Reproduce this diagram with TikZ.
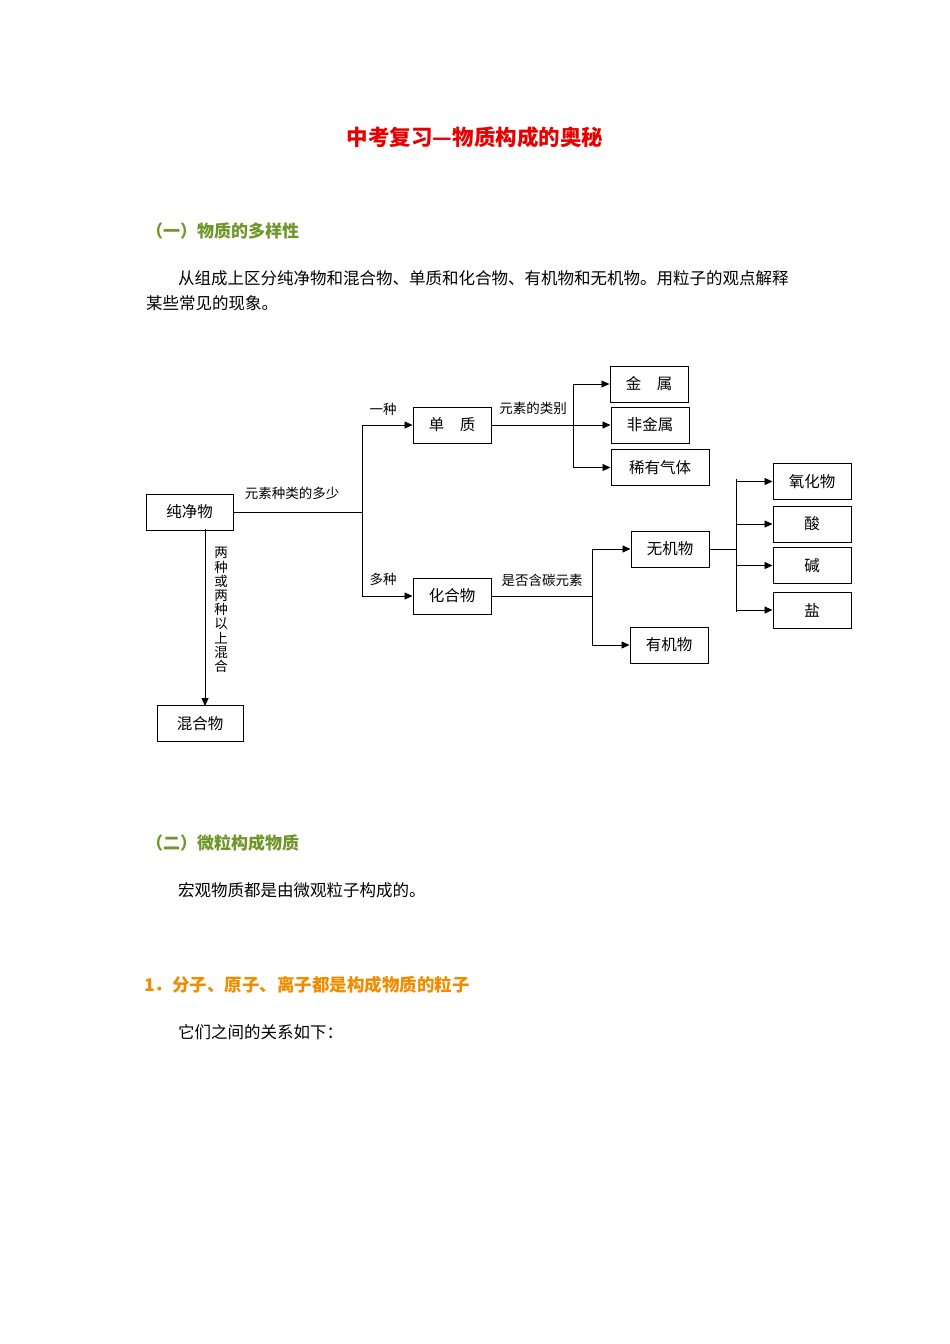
\documentclass[tikz,border=0pt]{standalone}
\usepackage{fontspec}
\setmainfont{Noto Sans CJK SC}
\usetikzlibrary{arrows.meta}
\definecolor{titlered}{RGB}{230,0,0}
\definecolor{headgreen}{RGB}{110,150,40}
\definecolor{headorange}{RGB}{240,140,0}
\begin{document}
\begin{tikzpicture}[x=1pt,y=-1pt,
 box/.style={draw,line width=1pt,minimum height=36pt,font=\fontsize{15.5}{15.5}\selectfont,inner sep=0pt},
 lab/.style={font=\fontsize{13.5}{13.5}\selectfont,inner sep=0pt},
 body/.style={font=\fontsize{16.5}{17}\selectfont,inner sep=0pt,anchor=west},
 arr/.style={-{Triangle[length=8pt,width=7pt]},line width=0.8pt},
 ln/.style={line width=0.8pt}]
\useasboundingbox (0,0) rectangle (950,1344);
\node[font=\bfseries\fontsize{21.5}{21.5}\selectfont,text=titlered] (title) at (475,137) {中考复习—物质构成的奥秘};
\node[body,font=\bfseries\fontsize{17}{17}\selectfont,text=headgreen] (h1) at (146,231) {（一）物质的多样性};
\node[body] (p1) at (178,278) {从组成上区分纯净物和混合物、单质和化合物、有机物和无机物。用粒子的观点解释};
\node[body] (p2) at (146,303) {某些常见的现象。};
\node[body,font=\bfseries\fontsize{17}{17}\selectfont,text=headgreen] (h2) at (146,843) {（二）微粒构成物质};
\node[body] (p3) at (178,890) {宏观物质都是由微观粒子构成的。};
\node[body,font=\bfseries\fontsize{17.5}{17.5}\selectfont,text=headorange] (h3) at (144,985) {1．分子、原子、离子都是构成物质的粒子};
\node[body] (p4) at (178,1032) {它们之间的关系如下：};

\node[box,minimum width=87pt] (chun) at (189.5,512) {纯净物};
\node[box,minimum width=86pt] (hun) at (200,723.5) {混合物};
\node[box,minimum width=78pt] (dan) at (452,425) {单\hspace{1em}质};
\node[box,minimum width=78pt] (hua) at (452,596) {化合物};
\node[box,minimum width=78pt] (jin) at (649,384) {金\hspace{1em}属};
\node[box,minimum width=78pt] (fei) at (650,425) {非金属};
\node[box,minimum width=98pt] (xi) at (660,467.5) {稀有气体};
\node[box,minimum width=78pt] (wu) at (670,549) {无机物};
\node[box,minimum width=78pt] (you) at (669,645) {有机物};
\node[box,minimum width=78pt] (yang) at (812,481.5) {氧化物};
\node[box,minimum width=78pt] (suan) at (812,524) {酸};
\node[box,minimum width=78pt] (jian) at (812,565.5) {碱};
\node[box,minimum width=78pt] (yan) at (812,610) {盐};

\coordinate (b1) at (362,512);
\draw[ln] (chun.east) -- (b1);
\draw[ln] (362,425) -- (362,596);
\draw[arr] (362,425) -- (dan.west);
\draw[arr] (362,596) -- (hua.west);
\node[lab] (l1) at (292,493) {元素种类的多少};
\node[lab] (l2) at (383,409) {一种};
\node[lab] (l3) at (383,579) {多种};

\coordinate (b2) at (573,425);
\draw[ln] (dan.east) -- (b2);
\draw[ln] (573,384) -- (573,467.5);
\draw[arr] (573,384) -- (jin.west);
\draw[arr] (b2) -- (fei.west);
\draw[arr] (573,467.5) -- (xi.west);
\node[lab] (l4) at (533,408) {元素的类别};

\coordinate (b3) at (592,596);
\draw[ln] (hua.east) -- (b3);
\draw[ln] (592,549) -- (592,645);
\draw[arr] (592,549) -- (wu.west);
\draw[arr] (592,645) -- (you.west);
\node[lab] (l5) at (542,580) {是否含碳元素};

\coordinate (b4) at (736,549);
\draw[ln] (wu.east) -- (b4);
\draw[ln] (736,479) -- (736,612);
\draw[arr] (736,481.5) -- (yang.west);
\draw[arr] (736,524) -- (suan.west);
\draw[arr] (736,565.5) -- (jian.west);
\draw[arr] (736,610) -- (yan.west);

\draw[arr] (205,529) -- (205,706);
\node[lab,align=center,font=\fontsize{13.5}{14.2}\selectfont] (l6) at (221,610) {两\\种\\或\\两\\种\\以\\上\\混\\合};
\end{tikzpicture}
\end{document}
